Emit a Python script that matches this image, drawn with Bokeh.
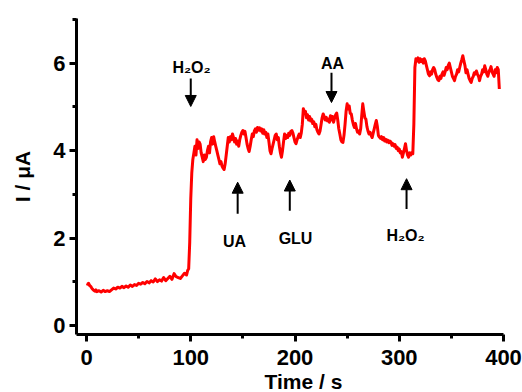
from bokeh.plotting import figure
from bokeh.models import Range1d, FixedTicker, Label, Arrow, NormalHead, ColumnDataSource, Title
from bokeh.embed import file_html
from bokeh.resources import INLINE

# ---------------- data ----------------
time_a = [0, 1, 2, 3, 4, 5, 6, 7, 8, 9, 10, 12, 14, 16, 18, 20, 22, 24, 26, 28, 30, 32, 34,
          36, 38, 40, 42, 44, 46, 48, 50, 52, 54, 56, 58, 60, 62, 64, 66, 68, 70, 72, 74,
          76, 78, 80, 82, 84, 86, 88, 90, 92, 94, 96, 97, 98, 99, 100, 101, 102, 103]
current_a = [0.96, 0.95, 0.97, 0.92, 0.90, 0.86, 0.83, 0.81, 0.79, 0.82, 0.78, 0.80, 0.77,
             0.81, 0.78, 0.80, 0.78, 0.82, 0.86, 0.84, 0.88, 0.86, 0.90, 0.87, 0.91, 0.88,
             0.93, 0.90, 0.94, 0.92, 0.97, 0.95, 0.99, 0.96, 1.01, 0.98, 1.03, 1.00, 1.07,
             1.01, 1.05, 1.02, 1.10, 1.03, 1.08, 1.13, 1.06, 1.19, 1.12, 1.10, 1.08, 1.14,
             1.20, 1.16, 1.26, 1.30, 1.90, 2.90, 3.50, 3.80, 3.95]

time_b = list(range(104, 397))
current_b = [
    4.10, 3.90, 4.25, 4.05, 4.20, 4.15, 3.95, 3.85, 3.75, 3.90,   # 104-113
    3.80, 3.85, 4.00, 4.10, 3.95, 4.20, 4.30, 4.15, 4.32, 4.20,   # 114-123
    4.10, 4.00, 3.90, 3.80, 3.70, 3.75, 3.65, 3.60, 3.57, 3.70,   # 124-133
    3.90, 4.10, 4.30, 4.20, 4.32, 4.25, 4.38, 4.30, 4.20, 4.28,   # 134-143
    4.15, 4.22, 4.10, 4.25, 4.35, 4.42, 4.46, 4.38, 4.44, 4.30,   # 144-153
    4.15, 4.05, 3.98, 4.10, 4.25, 4.38, 4.32, 4.45, 4.50, 4.42,   # 154-163
    4.53, 4.47, 4.52, 4.45, 4.50, 4.40, 4.48, 4.38, 4.42, 4.30,   # 164-173
    4.38, 4.20, 4.00, 3.93, 4.05, 4.15, 4.25, 4.35, 4.38, 4.25,   # 174-183
    4.30, 4.10, 3.95, 3.85, 4.00, 4.20, 4.38, 4.28, 4.35, 4.30,   # 184-193
    4.40, 4.35, 4.44, 4.46, 4.40, 4.30, 4.20, 4.16, 4.25, 4.32,   # 194-203
    4.38, 4.30, 4.40, 4.60, 4.96, 4.85, 4.90, 4.75, 4.82, 4.70,   # 204-213
    4.78, 4.68, 4.72, 4.62, 4.66, 4.55, 4.60, 4.48, 4.42, 4.38,   # 214-223
    4.45, 4.60, 4.75, 4.84, 4.78, 4.70, 4.76, 4.68, 4.72, 4.65,   # 224-233
    4.80, 4.70, 4.78, 4.65, 4.75, 4.82, 4.86, 4.70, 4.50, 4.38,   # 234-243
    4.25, 4.20, 4.19, 4.35, 4.60, 4.90, 5.07, 4.95, 5.02, 4.85,   # 244-253
    4.84, 4.70, 4.60, 4.53, 4.62, 4.50, 4.42, 4.45, 4.38, 4.50,   # 254-263
    4.80, 5.07, 4.90, 4.75, 4.72, 4.55, 4.45, 4.38, 4.42, 4.35,   # 264-273
    4.30, 4.40, 4.50, 4.60, 4.69, 4.55, 4.35, 4.31, 4.28, 4.32,   # 274-283
    4.25, 4.30, 4.22, 4.26, 4.20, 4.24, 4.18, 4.22, 4.20, 4.12,   # 284-293
    4.16, 4.10, 4.14, 4.05, 4.08, 4.00, 4.04, 3.95, 3.98, 3.85,   # 294-303
    3.95, 4.05, 4.16, 4.00, 3.90, 3.85, 3.95, 3.90, 3.96, 3.93,   # 304-313
    4.60, 5.90, 6.10, 6.05, 6.12, 6.02, 6.10, 6.04, 6.08, 6.00,   # 314-323
    6.10, 6.05, 5.95, 5.85, 5.75, 5.71, 5.80, 5.75, 5.85, 5.90,   # 324-333
    5.85, 5.75, 5.68, 5.62, 5.60, 5.70, 5.65, 5.75, 5.80, 5.72,   # 334-343
    5.80, 5.90, 5.85, 5.95, 6.00, 5.90, 5.80, 5.70, 5.65, 5.60,   # 344-353
    5.70, 5.75, 5.85, 5.80, 5.90, 6.00, 6.08, 6.17, 6.05, 5.95,   # 354-363
    5.78, 5.85, 5.75, 5.65, 5.60, 5.56, 5.65, 5.70, 5.78, 5.75,   # 364-373
    5.82, 5.75, 5.70, 5.60, 5.70, 5.75, 5.85, 5.80, 5.94, 5.85,   # 374-383
    5.75, 5.70, 5.80, 5.85, 5.92, 5.80, 5.75, 5.70, 5.85, 5.78,   # 384-393
    5.90, 5.85, 5.41,                                             # 394-396
]

x_major = [0, 100, 200, 300, 400]
x_minor = [50, 150, 250, 350]
y_major = [0, 2, 4, 6]
y_minor = [1, 3, 5, 7]

# annotations: (text, arrow time, arrow tail, arrow tip, text time, text baseline)
annotations = [
    ("H\u2082O\u2082", 100, 5.65, 5.01, 100.7, 5.90),
    ("AA", 235, 5.78, 5.10, 236, 5.99),
    ("UA", 145, 2.56, 3.28, 142, 1.93),
    ("GLU", 195, 2.63, 3.33, 200.5, 1.99),
    ("H\u2082O\u2082", 307, 2.67, 3.36, 306, 2.06),
]

time = time_a + time_b
current = current_a + current_b

FONT = "Liberation Sans"

p = figure(width=522, height=392, output_backend="svg", toolbar_location=None,
           x_range=Range1d(-9.6, 400), y_range=Range1d(-0.2, 7.02),
           min_border_left=76, min_border_right=19, min_border_top=18, min_border_bottom=58)
p.outline_line_color = None
p.grid.visible = False
p.background_fill_color = "white"
p.border_fill_color = "white"

src = ColumnDataSource(dict(t=time, i=current))
p.line("t", "i", source=src, line_color="#ff0000", line_width=3, line_join="round")

for ax, major, minor in ((p.xaxis[0], x_major, x_minor), (p.yaxis[0], y_major, y_minor)):
    ax.ticker = FixedTicker(ticks=major, minor_ticks=minor)
    ax.axis_line_width = 3
    ax.axis_line_color = "black"
    ax.major_tick_line_width = 3
    ax.minor_tick_line_width = 3
    ax.major_tick_in = 0
    ax.major_tick_out = 7
    ax.minor_tick_in = 0
    ax.minor_tick_out = 4
    ax.major_label_text_font = FONT
    ax.major_label_text_font_style = "bold"
    ax.major_label_text_font_size = "22px"
    ax.major_label_text_color = "black"
    ax.axis_label_text_font = FONT
    ax.axis_label_text_font_style = "bold"
    ax.axis_label_text_font_size = "21px"
    ax.axis_label_text_color = "black"
p.xaxis.major_label_standoff = 8
p.yaxis.major_label_standoff = 4

p.yaxis.axis_label = "I / \u03bcA"
p.yaxis.axis_label_standoff = 16

p.add_layout(Title(text="Time / s", align="left", offset=188, standoff=0,
                   text_font=FONT, text_font_style="bold", text_font_size="21px",
                   text_color="black"), "below")

for txt, ta, y0, y1, tt, yt in annotations:
    p.add_layout(Arrow(x_start=ta, y_start=y0, x_end=ta, y_end=y1, line_width=2,
                       line_color="black",
                       end=NormalHead(size=11, fill_color="black", line_color="black")))
    p.add_layout(Label(x=tt, y=yt, text=txt, text_align="center", text_baseline="alphabetic",
                       text_font=FONT, text_font_style="bold", text_font_size="16px",
                       text_color="black"))

open("out.html", "w").write(file_html(p, INLINE))
